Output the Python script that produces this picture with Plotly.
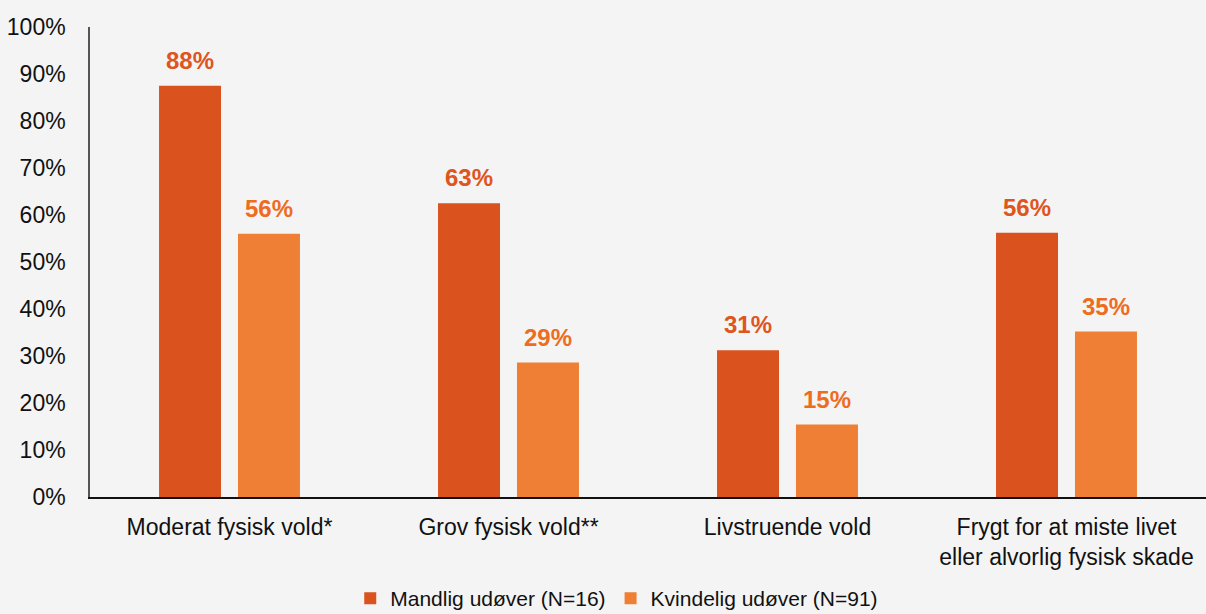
import plotly.graph_objects as go

categories = ["Moderat fysisk vold*", "Grov fysisk vold**", "Livstruende vold",
              "Frygt for at miste livet<br>eller alvorlig fysisk skade"]
male_name = "Mandlig udøver (N=16)"
female_name = "Kvindelig udøver (N=91)"
male_values = [87.5, 62.5, 31.25, 56.25]
female_values = [56.0, 28.6, 15.4, 35.2]
y_ticks = [0, 10, 20, 30, 40, 50, 60, 70, 80, 90, 100]

male_color = "#DA521E"
female_color = "#EE7F34"
male_text_color = "#DE5520"
female_text_color = "#EE6C1E"
bg = "#F4F4F4"
font_family = "Liberation Sans, Arial, Helvetica, sans-serif"


def pct(v):
    return f"{int(v + 0.5)}%"


fig = go.Figure()
fig.add_trace(go.Bar(x=categories, y=male_values, name=male_name,
                     marker=dict(color=male_color, line=dict(width=0))))
fig.add_trace(go.Bar(x=categories, y=female_values, name=female_name,
                     marker=dict(color=female_color, line=dict(width=0))))

annotations = []
for cat, mv, fv in zip(categories, male_values, female_values):
    annotations.append(dict(x=cat, y=mv, text=pct(mv), showarrow=False,
                            xshift=-39.5, yshift=10, yanchor="bottom",
                            font=dict(size=24, color=male_text_color, family=font_family, weight="bold")))
    annotations.append(dict(x=cat, y=fv, text=pct(fv), showarrow=False,
                            xshift=39.5, yshift=10, yanchor="bottom",
                            font=dict(size=24, color=female_text_color, family=font_family, weight="bold")))

fig.update_layout(
    width=1206, height=614,
    margin=dict(l=90, r=0, t=27, b=117, autoexpand=False),
    paper_bgcolor=bg, plot_bgcolor=bg,
    font=dict(family=font_family, color="#111111", size=23),
    barmode="group", bargap=0.434, bargroupgap=0.215,
    showlegend=True,
    legend=dict(orientation="h", x=0.472, xanchor="center", y=-0.216, yanchor="middle",
                font=dict(size=21, color="#111111"), bgcolor="rgba(0,0,0,0)",
                itemwidth=30, traceorder="normal"),
    annotations=annotations,
)
fig.update_xaxes(showline=True, linecolor="#111111", linewidth=2, showgrid=False,
                 ticks="", ticklabelstandoff=8, tickfont=dict(size=23))
fig.update_yaxes(range=[0, 100], tickvals=y_ticks, ticktext=[f"{v}%" for v in y_ticks],
                 showline=True, linecolor="#555555", linewidth=1.5, showgrid=False,
                 zeroline=False, ticks="", ticklabelstandoff=18, tickfont=dict(size=23))

fig.write_html("out.html", config={"displayModeBar": False},
               post_script="document.body.style.margin='0';document.body.style.overflow='hidden';")
